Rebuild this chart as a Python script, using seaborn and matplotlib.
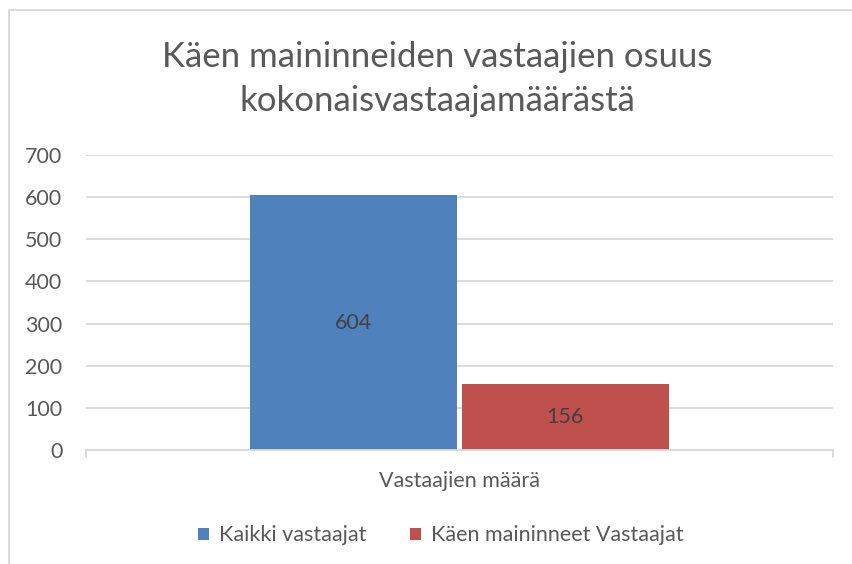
import pandas as pd
import matplotlib.pyplot as plt
import seaborn as sns
from matplotlib.patches import Rectangle

# Chart data
category = ['Vastaajien määrä']
series = ['Kaikki vastaajat', 'Käen maininneet Vastaajat']
values = [604, 156]
colors = ['#4f81bd', '#c0504d']
title = 'Käen maininneiden vastaajien osuus\nkokonaisvastaajamäärästä'

df = pd.DataFrame({'kategoria': category * len(series), 'sarja': series, 'arvo': values})

sns.set_theme(style='white')
plt.rcParams['font.family'] = ['Lato', 'DejaVu Sans']
txt = '#595959'
grid = '#d9d9d9'
fs = 15.5

fig = plt.figure(figsize=(8.53, 5.64), dpi=100)
ax = fig.add_axes([86 / 853, 1 - 450 / 564, (833 - 86) / 853, (450 - 155) / 564])

sns.barplot(data=df, x='kategoria', y='arvo', hue='sarja', palette=colors,
            width=0.566, gap=0.02, linewidth=0, saturation=1, ax=ax, legend=True)

ax.set_xlim(-0.5, 0.5)
ax.set_ylim(0, 700)
ax.set_yticks(range(0, 701, 100))
ax.yaxis.grid(True, color=grid, linewidth=1.3)
ax.set_axisbelow(True)
for s in ['top', 'right', 'left']:
    ax.spines[s].set_visible(False)
ax.spines['bottom'].set_color(grid)
ax.spines['bottom'].set_linewidth(1.3)
ax.tick_params(axis='y', length=0, labelsize=fs, labelcolor=txt, pad=17)
ax.tick_params(axis='x', length=0, labelsize=fs, labelcolor=txt, pad=15)
ax.set_xlabel('')
ax.set_ylabel('')

# small ticks at the ends of the category axis
for xe in (-0.5, 0.5):
    ax.plot([xe, xe], [0, -16], color=grid, lw=1.3, clip_on=False)

for c in ax.containers:
    ax.bar_label(c, label_type='center', fontsize=fs, color='#404040')

# title centred on the (cropped) chart frame
fig.text(437 / 853, 1 - 79 / 564, title, ha='center', va='center',
         fontsize=25, color=txt, linespacing=1.45)

leg = ax.legend(loc='upper center', bbox_to_anchor=(0.475, -0.19), ncol=2, frameon=False,
                fontsize=fs, handlelength=0.5, handleheight=0.5, handletextpad=0.5,
                columnspacing=2.0)
for t in leg.get_texts():
    t.set_color(txt)

# outer chart frame (cropped at right and bottom)
fig.patches.append(Rectangle((9 / 853, -0.1), 1.2, 1 - 10 / 564 + 0.1,
                             transform=fig.transFigure, fill=False,
                             edgecolor=grid, linewidth=1.3))

fig.savefig('out.png', dpi=100)
